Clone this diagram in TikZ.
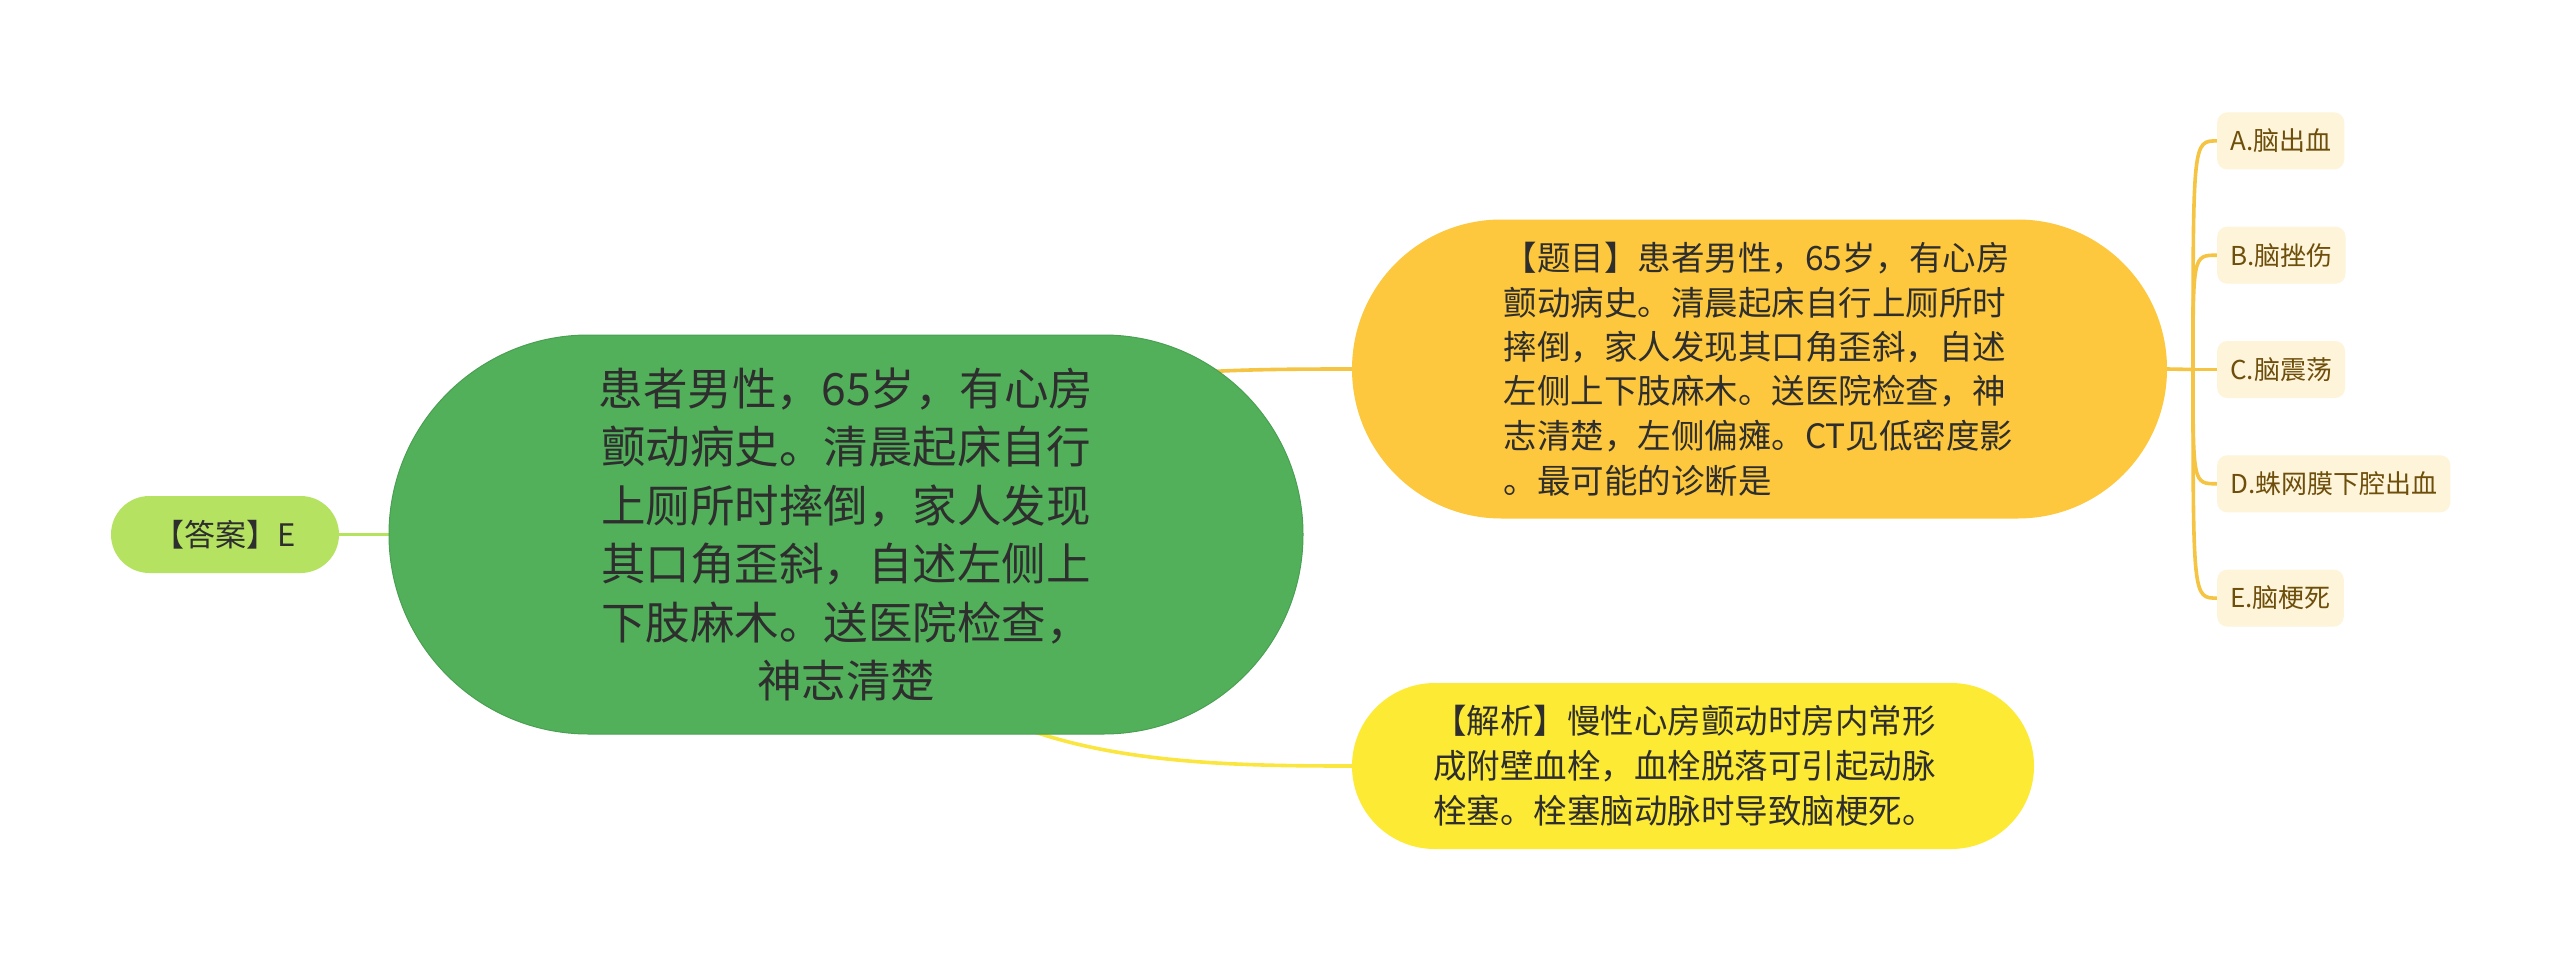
\documentclass[tikz,border=0pt]{standalone}
\usepackage{fontspec}
\setmainfont{Noto Sans CJK SC}
\usetikzlibrary{backgrounds}
\definecolor{maingreen}{HTML}{52B05B}
\definecolor{mainborder}{HTML}{4AA052}
\definecolor{ansgreen}{HTML}{B5E361}
\definecolor{topicamber}{HTML}{FDC83D}
\definecolor{anayellow}{HTML}{FDEA35}
\definecolor{optfill}{HTML}{FDF4DA}
\definecolor{opttext}{HTML}{6E4E0B}
\definecolor{textdark}{HTML}{2E2E2E}
\definecolor{lineamber}{HTML}{F6C443}
\definecolor{lineyellow}{HTML}{FBE640}
\definecolor{linegreen}{HTML}{B5E35D}
\tikzset{
  mainbox/.style={fill=maingreen, draw=mainborder, line width=1pt,
    minimum width=914, minimum height=399, rounded corners=199.4,
    align=center, text=textdark, inner sep=0,
    font=\fontsize{44.5}{58.5}\selectfont},
  topicbox/.style={fill=topicamber, minimum width=815, minimum height=299,
    rounded corners=149.4, text width=512, align=left, text=textdark,
    inner sep=0, font=\fontsize{33.5}{44.5}\selectfont},
  anabox/.style={fill=anayellow, minimum width=682, minimum height=166,
    rounded corners=82.9, text width=520, align=left, text=textdark,
    inner sep=0, font=\fontsize{33.5}{45}\selectfont},
  ansbox/.style={fill=ansgreen, minimum width=228, minimum height=77,
    rounded corners=38.4, text=textdark, inner sep=0,
    font=\fontsize{31}{38}\selectfont},
  optbox/.style={fill=optfill, minimum height=57, inner xsep=13, inner ysep=0,
    rounded corners=10, anchor=west, text=opttext,
    font=\fontsize{26}{32}\selectfont},
  conn/.style={line width=3.6pt, line cap=round},
}
\begin{document}
\begin{tikzpicture}[x=1pt,y=-1pt]
\useasboundingbox (0,0) rectangle (2560,961);

\node[mainbox] (main) at (846,534.5) {患者男性，65岁，有心房\\颤动病史。清晨起床自行\\上厕所时摔倒，家人发现\\其口角歪斜，自述左侧上\\下肢麻木。送医院检查，\\神志清楚};

\node[ansbox] (ans) at (225,534.5) {【答案】E};

\node[topicbox] (topic) at (1759.5,369) {【题目】患者男性，65岁，有心房\\颤动病史。清晨起床自行上厕所时\\摔倒，家人发现其口角歪斜，自述\\左侧上下肢麻木。送医院检查，神\\志清楚，左侧偏瘫。CT见低密度影\\。最可能的诊断是};

\node[anabox] (ana) at (1693,766) {【解析】慢性心房颤动时房内常形\\成附壁血栓，血栓脱落可引起动脉\\栓塞。栓塞脑动脉时导致脑梗死。};

\node[optbox] (oa) at (2217,140.9) {A.脑出血};
\node[optbox] (ob) at (2217,255.2) {B.脑挫伤};
\node[optbox] (oc) at (2217,369.5) {C.脑震荡};
\node[optbox] (od) at (2217,483.8) {D.蛛网膜下腔出血};
\node[optbox] (oe) at (2217,598.1) {E.脑梗死};

\coordinate (hub) at (2193,369.5);

\begin{pgfonlayer}{background}
\fill[white] (0,0) rectangle (2560,961);
\draw[conn, linegreen] (ans.east) -- (main.west);
\draw[conn, lineamber] (main.center) .. controls (950,372) and (1150,369) .. (topic.west);
\draw[conn, lineyellow] (main.center) .. controls (900,760) and (1150,766) .. (ana.west);
\draw[conn, lineamber] (topic.east) -- (hub);
\draw[conn, lineamber] (hub) .. controls (hub |- oa.west) .. (oa.west);
\draw[conn, lineamber] (hub) .. controls (hub |- ob.west) .. (ob.west);
\draw[conn, lineamber] (hub) -- (oc.west);
\draw[conn, lineamber] (hub) .. controls (hub |- od.west) .. (od.west);
\draw[conn, lineamber] (hub) .. controls (hub |- oe.west) .. (oe.west);
\end{pgfonlayer}
\end{tikzpicture}
\end{document}
